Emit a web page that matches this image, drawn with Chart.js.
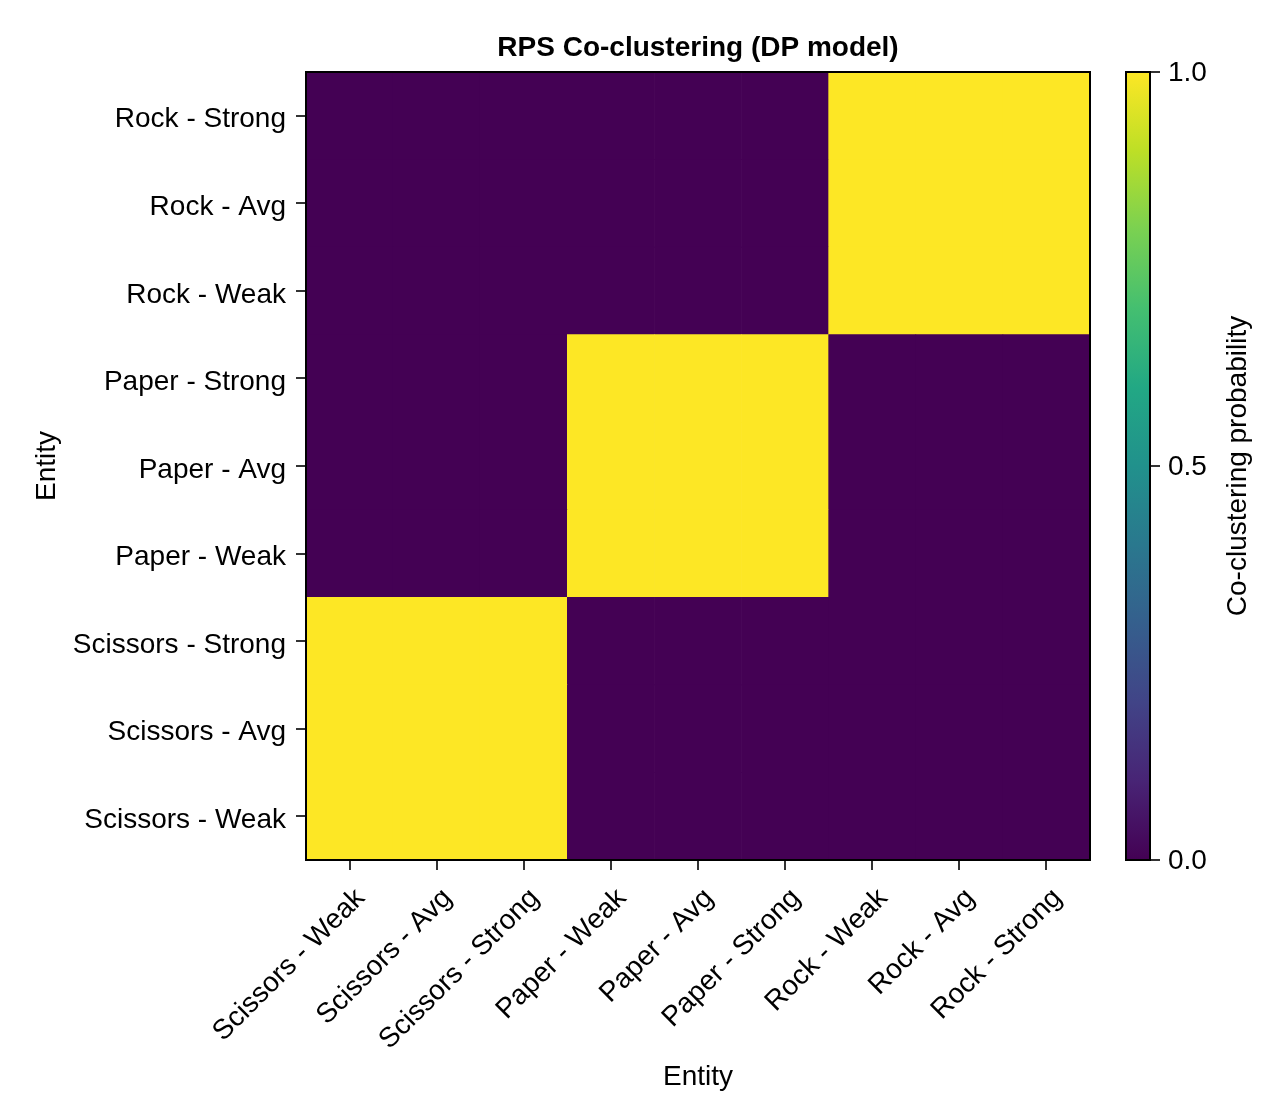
<!DOCTYPE html>
<html>
<head>
<meta charset="utf-8">
<script src="https://cdn.jsdelivr.net/npm/chart.js@4"></script>
<style>
  body { margin: 0; background: #fff; }
  #wrap { position: relative; width: 1280px; height: 1120px; }
  canvas { position: absolute; top: 0; }
</style>
</head>
<body>
<div id="wrap">
  <canvas id="heatmap" width="1280" height="1120" style="left:0"></canvas>
  <canvas id="colorbar" width="190" height="1120" style="left:1090px"></canvas>
</div>
<script>
// entities, bottom row / left column first
const entities = [
  'Scissors - Weak', 'Scissors - Avg', 'Scissors - Strong',
  'Paper - Weak', 'Paper - Avg', 'Paper - Strong',
  'Rock - Weak', 'Rock - Avg', 'Rock - Strong'
]

// co-clustering probability, one row per entity (same order)
const scissorsWeak   = [1, 1, 1, 0, 0, 0, 0, 0, 0]
const scissorsAvg    = [1, 1, 1, 0, 0, 0, 0, 0, 0]
const scissorsStrong = [1, 1, 1, 0, 0, 0, 0, 0, 0]
const paperWeak      = [0, 0, 0, 1, 1, 1, 0, 0, 0]
const paperAvg       = [0, 0, 0, 1, 1, 1, 0, 0, 0]
const paperStrong    = [0, 0, 0, 1, 1, 1, 0, 0, 0]
const rockWeak       = [0, 0, 0, 0, 0, 0, 1, 1, 1]
const rockAvg        = [0, 0, 0, 0, 0, 0, 1, 1, 1]
const rockStrong     = [0, 0, 0, 0, 0, 0, 1, 1, 1]
const coclust = [scissorsWeak, scissorsAvg, scissorsStrong, paperWeak, paperAvg, paperStrong, rockWeak, rockAvg, rockStrong]

const cbTicks = [0, 0.5, 1]

// viridis colormap stops
const viridisStops = ['#440154', '#482475', '#414487', '#355f8d', '#2a788e', '#21918c',
  '#22a884', '#44bf70', '#7ad151', '#bddf26', '#fde725']

function hexToRgb(h) {
  return [parseInt(h.slice(1, 3), 16), parseInt(h.slice(3, 5), 16), parseInt(h.slice(5, 7), 16)]
}
function viridis(v) {
  const t = Math.max(0, Math.min(1, v)) * (viridisStops.length - 1)
  const i = Math.min(Math.floor(t), viridisStops.length - 2)
  const f = t - i
  const a = hexToRgb(viridisStops[i]), b = hexToRgb(viridisStops[i + 1])
  const c = a.map((x, k) => Math.round(x + (b[k] - x) * f))
  return `rgb(${c[0]}, ${c[1]}, ${c[2]})`
}

Chart.defaults.font.family = '"Liberation Sans", Arial, Helvetica, sans-serif'
Chart.defaults.font.size = 28
Chart.defaults.color = '#000'

// black frame around the plot area
const frame = {
  id: 'frame',
  afterDatasetsDraw(chart) {
    const { left, top, width, height } = chart.chartArea
    const ctx = chart.ctx
    ctx.save()
    ctx.strokeStyle = '#000'
    ctx.lineWidth = 2
    ctx.strokeRect(left, top, width, height)
    ctx.restore()
  }
}

// rotated colorbar label (reads bottom to top)
const cbLabel = {
  id: 'cbLabel',
  afterDraw(chart) {
    const { right, top, bottom } = chart.chartArea
    const ctx = chart.ctx
    ctx.save()
    ctx.translate(right + 88, (top + bottom) / 2)
    ctx.rotate(-Math.PI / 2)
    ctx.font = '28px "Liberation Sans", Arial, sans-serif'
    ctx.fillStyle = '#000'
    ctx.textAlign = 'center'
    ctx.textBaseline = 'middle'
    ctx.fillText('Co-clustering probability', 0, 0)
    ctx.restore()
  }
}

const tickGrid = { drawOnChartArea: false, tickLength: 10, lineWidth: 2, color: '#333' }

new Chart(document.getElementById('heatmap'), {
  type: 'bar',
  data: {
    labels: entities,
    datasets: coclust.map((row, r) => ({
      label: entities[r],
      data: row.map(() => [r, r + 1]),
      backgroundColor: row.map(v => viridis(v)),
      borderWidth: 0,
      grouped: false,
      barPercentage: 1,
      categoryPercentage: 1
    }))
  },
  options: {
    responsive: false,
    animation: false,
    layout: { padding: { right: 190 } },
    plugins: { legend: { display: false }, tooltip: { enabled: false } },
    scales: {
      x: {
        grid: { ...tickGrid, offset: false },
        border: { display: false },
        ticks: { minRotation: 45, maxRotation: 45, autoSkip: false, padding: 12, labelOffset: 11 },
        title: { display: true, text: 'Entity', padding: { top: 0, bottom: 26 } },
        afterFit: s => { s.height = 260 }
      },
      x2: {
        axis: 'x',
        type: 'category',
        position: 'top',
        grid: { display: false },
        border: { display: false },
        ticks: { display: false },
        title: { display: true, text: 'RPS Co-clustering (DP model)', font: { weight: 'bold', size: 28 }, padding: { top: 31, bottom: 0 } },
        afterFit: s => { s.height = 72 }
      },
      y: {
        type: 'linear',
        min: 0,
        max: entities.length,
        afterBuildTicks: s => { s.ticks = entities.map((e, i) => ({ value: i + 0.5 })) },
        ticks: { autoSkip: false, padding: 10, labelOffset: 4, callback: v => entities[Math.floor(v)] },
        grid: tickGrid,
        border: { display: false },
        title: { display: true, text: 'Entity', padding: { top: 30, bottom: 0 } },
        afterFit: s => { s.width = 306 }
      }
    }
  },
  plugins: [frame]
})

new Chart(document.getElementById('colorbar'), {
  type: 'bar',
  data: {
    labels: [''],
    datasets: [{
      data: [[cbTicks[0], cbTicks[cbTicks.length - 1]]],
      backgroundColor: ctx => {
        const area = ctx.chart.chartArea
        if (!area) return viridisStops[0]
        const g = ctx.chart.ctx.createLinearGradient(0, area.bottom, 0, area.top)
        viridisStops.forEach((c, i) => g.addColorStop(i / (viridisStops.length - 1), c))
        return g
      },
      borderWidth: 0,
      barPercentage: 1,
      categoryPercentage: 1
    }]
  },
  options: {
    responsive: false,
    animation: false,
    layout: { padding: { left: 36, top: 72, bottom: 260, right: 0 } },
    plugins: { legend: { display: false }, tooltip: { enabled: false } },
    scales: {
      x: { display: false },
      y: {
        position: 'right',
        min: cbTicks[0],
        max: cbTicks[cbTicks.length - 1],
        afterBuildTicks: s => { s.ticks = cbTicks.map(v => ({ value: v })) },
        ticks: { padding: 8, labelOffset: 1, callback: v => v.toFixed(1) },
        grid: tickGrid,
        border: { display: false },
        afterFit: s => { s.width = 130 }
      }
    }
  },
  plugins: [frame, cbLabel]
})
</script>
</body>
</html>
